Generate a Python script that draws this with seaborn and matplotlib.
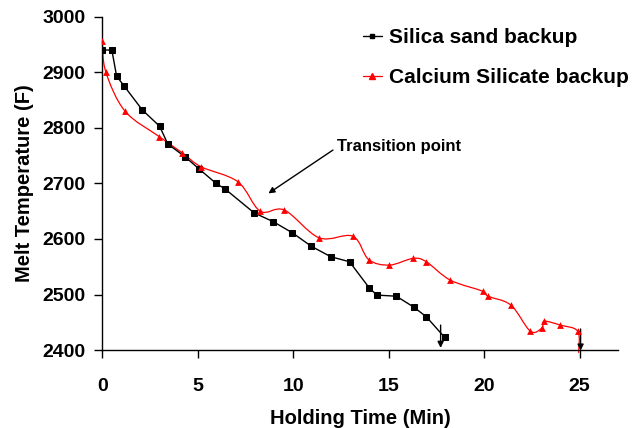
import matplotlib
matplotlib.use("Agg")
import numpy as np
import pandas as pd
import matplotlib.pyplot as plt
from matplotlib.path import Path
from matplotlib.patches import PathPatch
from matplotlib.lines import Line2D
import seaborn as sns

# Silica sand backup (minutes, deg F)
silica_time = [0, 0.5, 0.75, 1.15, 2.1, 3.0, 3.43, 4.33, 5.07, 5.96, 6.43,
               7.95, 8.96, 9.96, 10.94, 11.97, 12.95, 13.98, 14.38, 15.4,
               16.33, 16.97, 17.93]
silica_temp = [2940, 2940, 2893, 2875, 2832, 2803, 2771, 2748, 2726, 2700, 2690,
               2647, 2631, 2611, 2587, 2568, 2559, 2512, 2499, 2497,
               2477, 2460, 2423]

# Calcium silicate backup (minutes, deg F); last entry is the pour-out endpoint
calcium_time = [0, 0.18, 1.19, 2.99, 4.19, 5.17, 7.1, 8.27, 9.54, 11.36, 13.12,
                13.95, 15.04, 16.27, 16.97, 18.22, 19.92, 20.2, 21.4, 22.42,
                23.03, 23.15, 23.99, 24.9, 24.95]
calcium_temp = [2957, 2901, 2830, 2784, 2755, 2730, 2703, 2650, 2652, 2602, 2605,
                2563, 2553, 2565, 2559, 2526, 2506, 2497, 2481, 2434,
                2440, 2452, 2445, 2434, 2395]

series_labels = ["Silica sand backup", "Calcium Silicate backup"]
x_ticks = [0, 5, 10, 15, 20, 25]
y_ticks = [2400, 2500, 2600, 2700, 2800, 2900, 3000]

sns.set_style("ticks")
plt.rcParams["font.family"] = ["Liberation Sans", "DejaVu Sans"]
plt.rcParams["font.weight"] = "bold"
for key in ("text.color", "axes.labelcolor", "xtick.color", "ytick.color",
            "axes.edgecolor"):
    plt.rcParams[key] = "black"

fig = plt.figure(figsize=(6.33, 4.28), dpi=100)
ax = fig.add_axes([0.1616, 0.182, 0.8144, 0.779])

silica = pd.DataFrame({"time": silica_time, "temp": silica_temp})
calcium = pd.DataFrame({"time": calcium_time, "temp": calcium_temp})

sns.lineplot(data=silica, x="time", y="temp", sort=False, ax=ax, color="black",
             linewidth=1.0, marker="s", markersize=4.6, markeredgecolor="black",
             markerfacecolor="black", zorder=3, legend=False)

# Smoothed curve (Catmull-Rom as cubic Bezier segments) for calcium silicate
pts = calcium[["time", "temp"]].to_numpy(dtype=float)
verts = [tuple(pts[0])]
codes = [Path.MOVETO]
n = len(pts)
for i in range(n - 1):
    p0 = pts[i - 1] if i > 0 else pts[i]
    p1 = pts[i]
    p2 = pts[i + 1]
    p3 = pts[i + 2] if i + 2 < n else pts[i + 1]
    c1 = p1 + (p2 - p0) / 6.0
    c2 = p2 - (p3 - p1) / 6.0
    verts += [tuple(c1), tuple(c2), tuple(p2)]
    codes += [Path.CURVE4, Path.CURVE4, Path.CURVE4]
curve = PathPatch(Path(verts, codes), facecolor="none", edgecolor="red",
                  linewidth=0.9, zorder=2, clip_on=False)
ax.add_patch(curve)

sns.scatterplot(data=calcium.iloc[:-1], x="time", y="temp", ax=ax, color="red",
                marker="^", s=24, edgecolor="red", linewidth=0, zorder=4,
                legend=False)

handles = [
    Line2D([], [], color="black", lw=1.0, marker="s", markersize=3.2),
    Line2D([], [], color="red", lw=0.9, marker="^", markersize=3.8),
]
ax.legend(handles, series_labels, loc="upper left",
          bbox_to_anchor=(363 / 633, 1 - 28 / 428), bbox_transform=fig.transFigure,
          frameon=False, borderpad=0, borderaxespad=0, handlelength=0.9,
          handletextpad=0.35, labelspacing=1.0,
          prop={"weight": "bold", "size": 15})

arrow = dict(arrowstyle="-|>", color="black", lw=1.0, mutation_scale=9,
             shrinkA=0, shrinkB=0)
ax.annotate("", xy=(8.7, 2682), xytext=(12.08, 2760), arrowprops=arrow)
ax.text(12.3, 2758, "Transition point", fontsize=12, fontweight="bold",
        ha="left", va="baseline")
ax.annotate("", xy=(17.72, 2404), xytext=(17.72, 2445), arrowprops=arrow,
            annotation_clip=False)
ax.annotate("", xy=(25.05, 2399), xytext=(25.05, 2438), arrowprops=arrow,
            annotation_clip=False)

ax.set_xlim(0, 27)
ax.set_ylim(2400, 3000)
ax.set_xticks(x_ticks)
ax.set_yticks(y_ticks)
ax.tick_params(axis="both", direction="out", length=6, width=1, labelsize=14,
               color="black")
ax.tick_params(axis="x", pad=14)
ax.tick_params(axis="y", pad=6)
for lbl in ax.get_xticklabels() + ax.get_yticklabels():
    lbl.set_fontweight("bold")
ax.set_xlabel("Holding Time (Min)", fontsize=14.5, fontweight="bold", labelpad=10)
ax.set_ylabel("Melt Temperature (F)", fontsize=14.5, fontweight="bold", labelpad=6)
sns.despine(ax=ax)
for s in ("left", "bottom"):
    ax.spines[s].set_linewidth(1.0)

fig.savefig("out.png", dpi=100)
